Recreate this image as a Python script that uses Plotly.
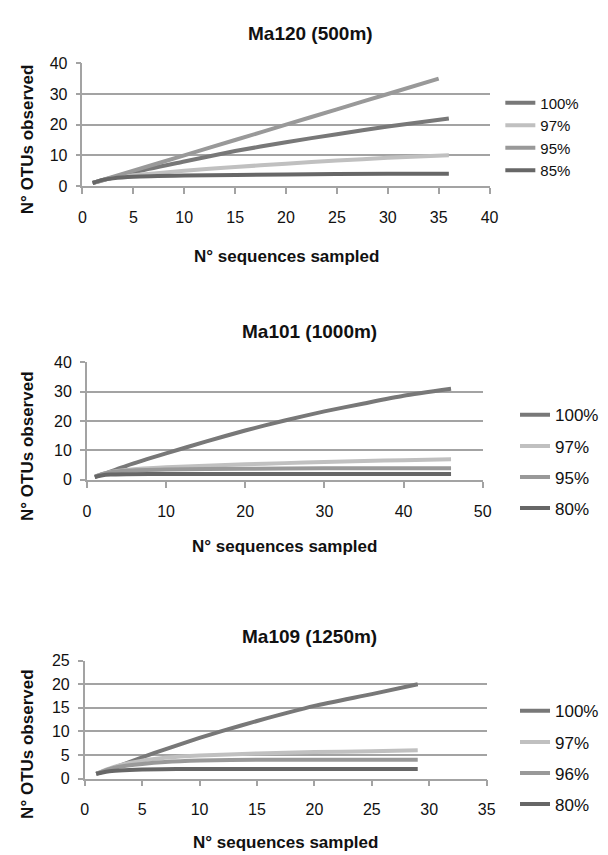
import plotly.graph_objects as go

# ---------------- data ----------------
# Panel 1: Ma120 (500m)
p1_title = "Ma120 (500m)"
p1_names = ["100%", "97%", "95%", "85%"]
p1_x_100 = [1, 5, 10, 15, 20, 25, 30, 36]
p1_y_100 = [1, 4.5, 8.0, 11.4, 14.3, 16.9, 19.4, 22]
p1_x_97 = [1, 2, 3, 5, 10, 15, 20, 25, 30, 36]
p1_y_97 = [1, 2, 2.7, 3.5, 5.0, 6.2, 7.3, 8.3, 9.2, 10]
p1_x_95 = [1, 5, 10, 15, 20, 25, 30, 35]
p1_y_95 = [1, 5, 10, 15, 20, 25, 30, 35]
p1_x_85 = [1, 2, 3, 5, 10, 20, 30, 36]
p1_y_85 = [1, 2, 2.5, 3.0, 3.4, 3.8, 4, 4]

# Panel 2: Ma101 (1000m)
p2_title = "Ma101 (1000m)"
p2_names = ["100%", "97%", "95%", "80%"]
p2_x_100 = [1, 5, 10, 15, 20, 25, 30, 35, 40, 46]
p2_y_100 = [1, 4.8, 9.0, 13.0, 16.8, 20.2, 23.3, 26.0, 28.6, 31]
p2_x_97 = [1, 2, 3, 5, 10, 15, 20, 25, 30, 35, 40, 46]
p2_y_97 = [1, 2, 2.7, 3.4, 4.3, 4.8, 5.3, 5.7, 6.1, 6.4, 6.7, 7]
p2_x_95 = [1, 2, 3, 5, 10, 20, 30, 46]
p2_y_95 = [1, 2, 2.6, 3.1, 3.5, 3.8, 4, 4]
p2_x_80 = [1, 2, 3, 5, 10, 46]
p2_y_80 = [1, 1.6, 1.8, 1.9, 2, 2]

# Panel 3: Ma109 (1250m)
p3_title = "Ma109 (1250m)"
p3_names = ["100%", "97%", "96%", "80%"]
p3_x_100 = [1, 3, 5, 7, 10, 12, 15, 20, 25, 29]
p3_y_100 = [1, 2.7, 4.5, 6.2, 8.6, 10.1, 12.2, 15.4, 17.9, 20]
p3_x_97 = [1, 2, 3, 5, 7, 10, 15, 20, 25, 29]
p3_y_97 = [1, 2, 2.8, 3.8, 4.4, 4.9, 5.3, 5.6, 5.8, 6]
p3_x_96 = [1, 2, 3, 5, 7, 10, 15, 29]
p3_y_96 = [1, 1.9, 2.5, 3.1, 3.5, 3.8, 4, 4]
p3_x_80 = [1, 2, 3, 5, 8, 29]
p3_y_80 = [1, 1.5, 1.7, 1.9, 2, 2]

x_axis_title = "N° sequences sampled"
y_axis_title = "N° OTUs observed"

# ---------------- style ----------------
W, H = 608, 855
FONT = "Liberation Sans, Arial, sans-serif"
colors = ["#787878", "#c0c0c0", "#999999", "#676767"]
GRID = "#a3a3a3"

panels = [
    dict(title=p1_title, names=p1_names,
         xs=[p1_x_100, p1_x_97, p1_x_95, p1_x_85],
         ys=[p1_y_100, p1_y_97, p1_y_95, p1_y_85],
         xr=[0, 40], xd=5, yr=[0, 40], yd=10,
         px=(72, 488), py=(48.3, 173.5),
         title_y=18, xt_y=245, yt_y=126, title_x=305,
         leg_x=499, leg_y=72, gap=0, lfs=15),
    dict(title=p2_title, names=p2_names,
         xs=[p2_x_100, p2_x_97, p2_x_95, p2_x_80],
         ys=[p2_y_100, p2_y_97, p2_y_95, p2_y_80],
         xr=[0, 50], xd=10, yr=[0, 40], yd=10,
         px=(76.5, 481), py=(353.3, 473.3),
         title_y=322, xt_y=541, yt_y=439, title_x=304,
         leg_x=514, leg_y=389, gap=6, lfs=17),
    dict(title=p3_title, names=p3_names,
         xs=[p3_x_100, p3_x_97, p3_x_96, p3_x_80],
         ys=[p3_y_100, p3_y_97, p3_y_96, p3_y_80],
         xr=[0, 35], xd=5, yr=[0, 25], yd=5,
         px=(74.3, 485), py=(657.7, 778),
         title_y=633, xt_y=843, yt_y=743, title_x=304,
         leg_x=514, leg_y=691, gap=6, lfs=17),
]

fig = go.Figure()
annotations = []
layout = dict()

for i, p in enumerate(panels, start=1):
    sfx = "" if i == 1 else str(i)
    legname = "legend" + sfx
    for k in range(4):
        fig.add_trace(go.Scatter(
            x=p["xs"][k], y=p["ys"][k], mode="lines", name=p["names"][k],
            line=dict(color=colors[k], width=4, shape="spline", smoothing=0.6),
            xaxis="x" + sfx, yaxis="y" + sfx,
            legend=legname, legendgroup=f"g{i}_{k}",
            showlegend=True,
        ))
    x0, x1 = p["px"]
    ytop, ybot = p["py"]
    layout["xaxis" + sfx] = dict(
        domain=[x0 / W, x1 / W], range=p["xr"], dtick=p["xd"], tick0=0,
        anchor="y" + sfx, showline=True, linecolor=GRID, linewidth=1.5,
        ticks="outside", ticklen=6, tickcolor=GRID, tickwidth=1.5,
        showgrid=False, zeroline=False, ticklabelstandoff=10,
        tickfont=dict(family=FONT, size=16, color="#111"),
    )
    layout["yaxis" + sfx] = dict(
        domain=[1 - ybot / H, 1 - ytop / H], range=p["yr"], dtick=p["yd"], tick0=0,
        anchor="x" + sfx, showline=True, linecolor=GRID, linewidth=1.5,
        ticks="outside", ticklen=5, tickcolor=GRID, tickwidth=1.5,
        showgrid=True, gridcolor=GRID, gridwidth=1.5, zeroline=False,
        ticklabelstandoff=5,
        tickfont=dict(family=FONT, size=16, color="#111"),
    )
    layout[legname] = dict(
        x=p["leg_x"] / W, y=1 - p["leg_y"] / H, xanchor="left", yanchor="top",
        font=dict(family=FONT, size=p["lfs"], color="#111"),
        bgcolor="rgba(0,0,0,0)", tracegroupgap=p["gap"],
    )
    annotations.append(dict(
        text="<b>" + p["title"] + "</b>", x=p["title_x"] / W, y=1 - p["title_y"] / H,
        xref="paper", yref="paper", xanchor="center", yanchor="middle",
        showarrow=False, font=dict(family=FONT, size=19, color="#111"),
    ))
    annotations.append(dict(
        text="<b>" + x_axis_title + "</b>", x=(x0 + x1) / 2 / W, y=1 - p["xt_y"] / H,
        xref="paper", yref="paper", xanchor="center", yanchor="middle",
        showarrow=False, font=dict(family=FONT, size=17, color="#111"),
    ))
    annotations.append(dict(
        text="<b>" + y_axis_title + "</b>", x=16 / W, y=1 - p["yt_y"] / H,
        xref="paper", yref="paper", xanchor="center", yanchor="middle",
        textangle=-90, showarrow=False, font=dict(family=FONT, size=17, color="#111"),
    ))

fig.update_layout(
    width=W, height=H, margin=dict(l=0, r=0, t=0, b=0),
    paper_bgcolor="white", plot_bgcolor="white",
    annotations=annotations, showlegend=True,
    font=dict(family=FONT),
    **layout,
)

fig.write_html("out.html")
